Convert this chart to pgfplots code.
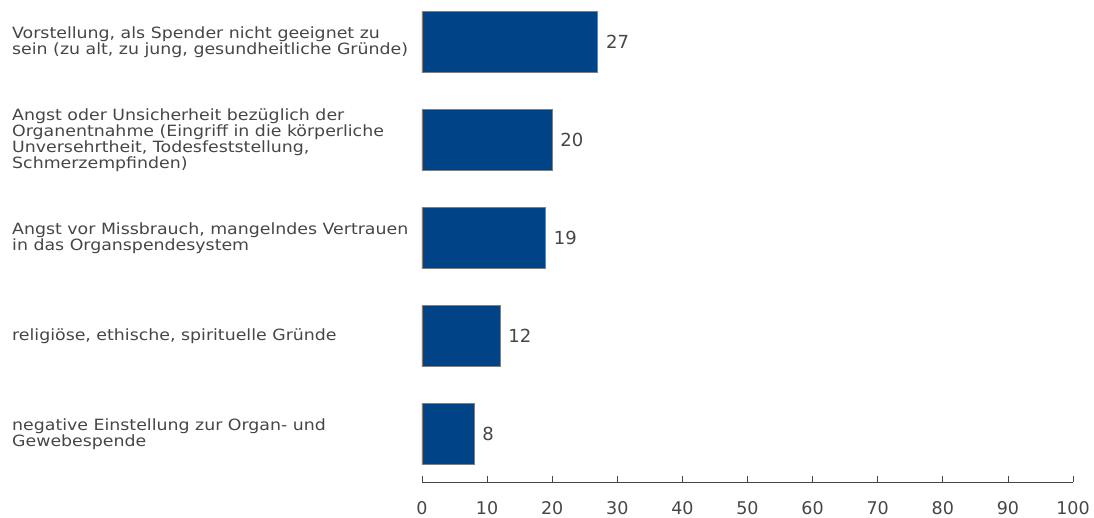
\documentclass[border=0pt]{standalone}
\usepackage{pgfplots}
\pgfplotsset{compat=1.18}
\usepackage{fontspec}
\setmainfont{DejaVu Sans}
\newfontfamily\labfont{DejaVu Sans}[FakeStretch=1.12]
\definecolor{barblue}{RGB}{0,68,135}
\definecolor{txt}{RGB}{70,70,70}
\begin{document}
\begin{tikzpicture}[x=1pt,y=1pt]
\useasboundingbox (-422,-35) rectangle (672,482);
\begin{axis}[
  at={(0,0)}, anchor=south west,
  scale only axis,
  width=651pt, height=482pt,
  xmin=0, xmax=100,
  ymin=-0.49, ymax=4.43,
  xbar, bar width=61pt,
  axis x line=bottom,
  axis y line=left,
  y axis line style={draw=none},
  x axis line style={draw=txt, line width=0.8pt, -},
  xtick={0,10,...,100},
  tick align=inside,
  major tick length=6pt,
  xtick style={draw=txt, line width=0.8pt},
  ytick style={draw=none},
  ytick={0,1,2,3,4},
  /pgf/number format/assume math mode=true,
  yticklabels={
    {negative Einstellung zur Organ- und\\Gewebespende},
    {religiöse, ethische, spirituelle Gründe},
    {Angst vor Missbrauch, mangelndes Vertrauen\\in das Organspendesystem},
    {Angst oder Unsicherheit bezüglich der\\Organentnahme (Eingriff in die körperliche\\Unversehrtheit, Todesfeststellung,\\Schmerzempfinden)},
    {Vorstellung, als Spender nicht geeignet zu\\sein (zu alt, zu jung, gesundheitliche Gründe)}
  },
  yticklabel style={anchor=west, align=left, inner sep=0pt, xshift=-410pt,
    font=\labfont\fontsize{15.5}{14.4}\selectfont, text=txt},
  xticklabel style={font=\fontsize{17.5}{18}\selectfont, text=txt, inner sep=0pt, yshift=-19pt},
  nodes near coords,
  nodes near coords style={anchor=west, xshift=8pt, inner sep=0pt,
    font=\fontsize{18}{18}\selectfont, text=txt},
  clip=false,
]
\addplot[fill=barblue, draw=gray, line width=0.6pt] coordinates {
  (8,0) (12,1) (19,2) (20,3) (27,4)
};
\end{axis}
\end{tikzpicture}
\end{document}
